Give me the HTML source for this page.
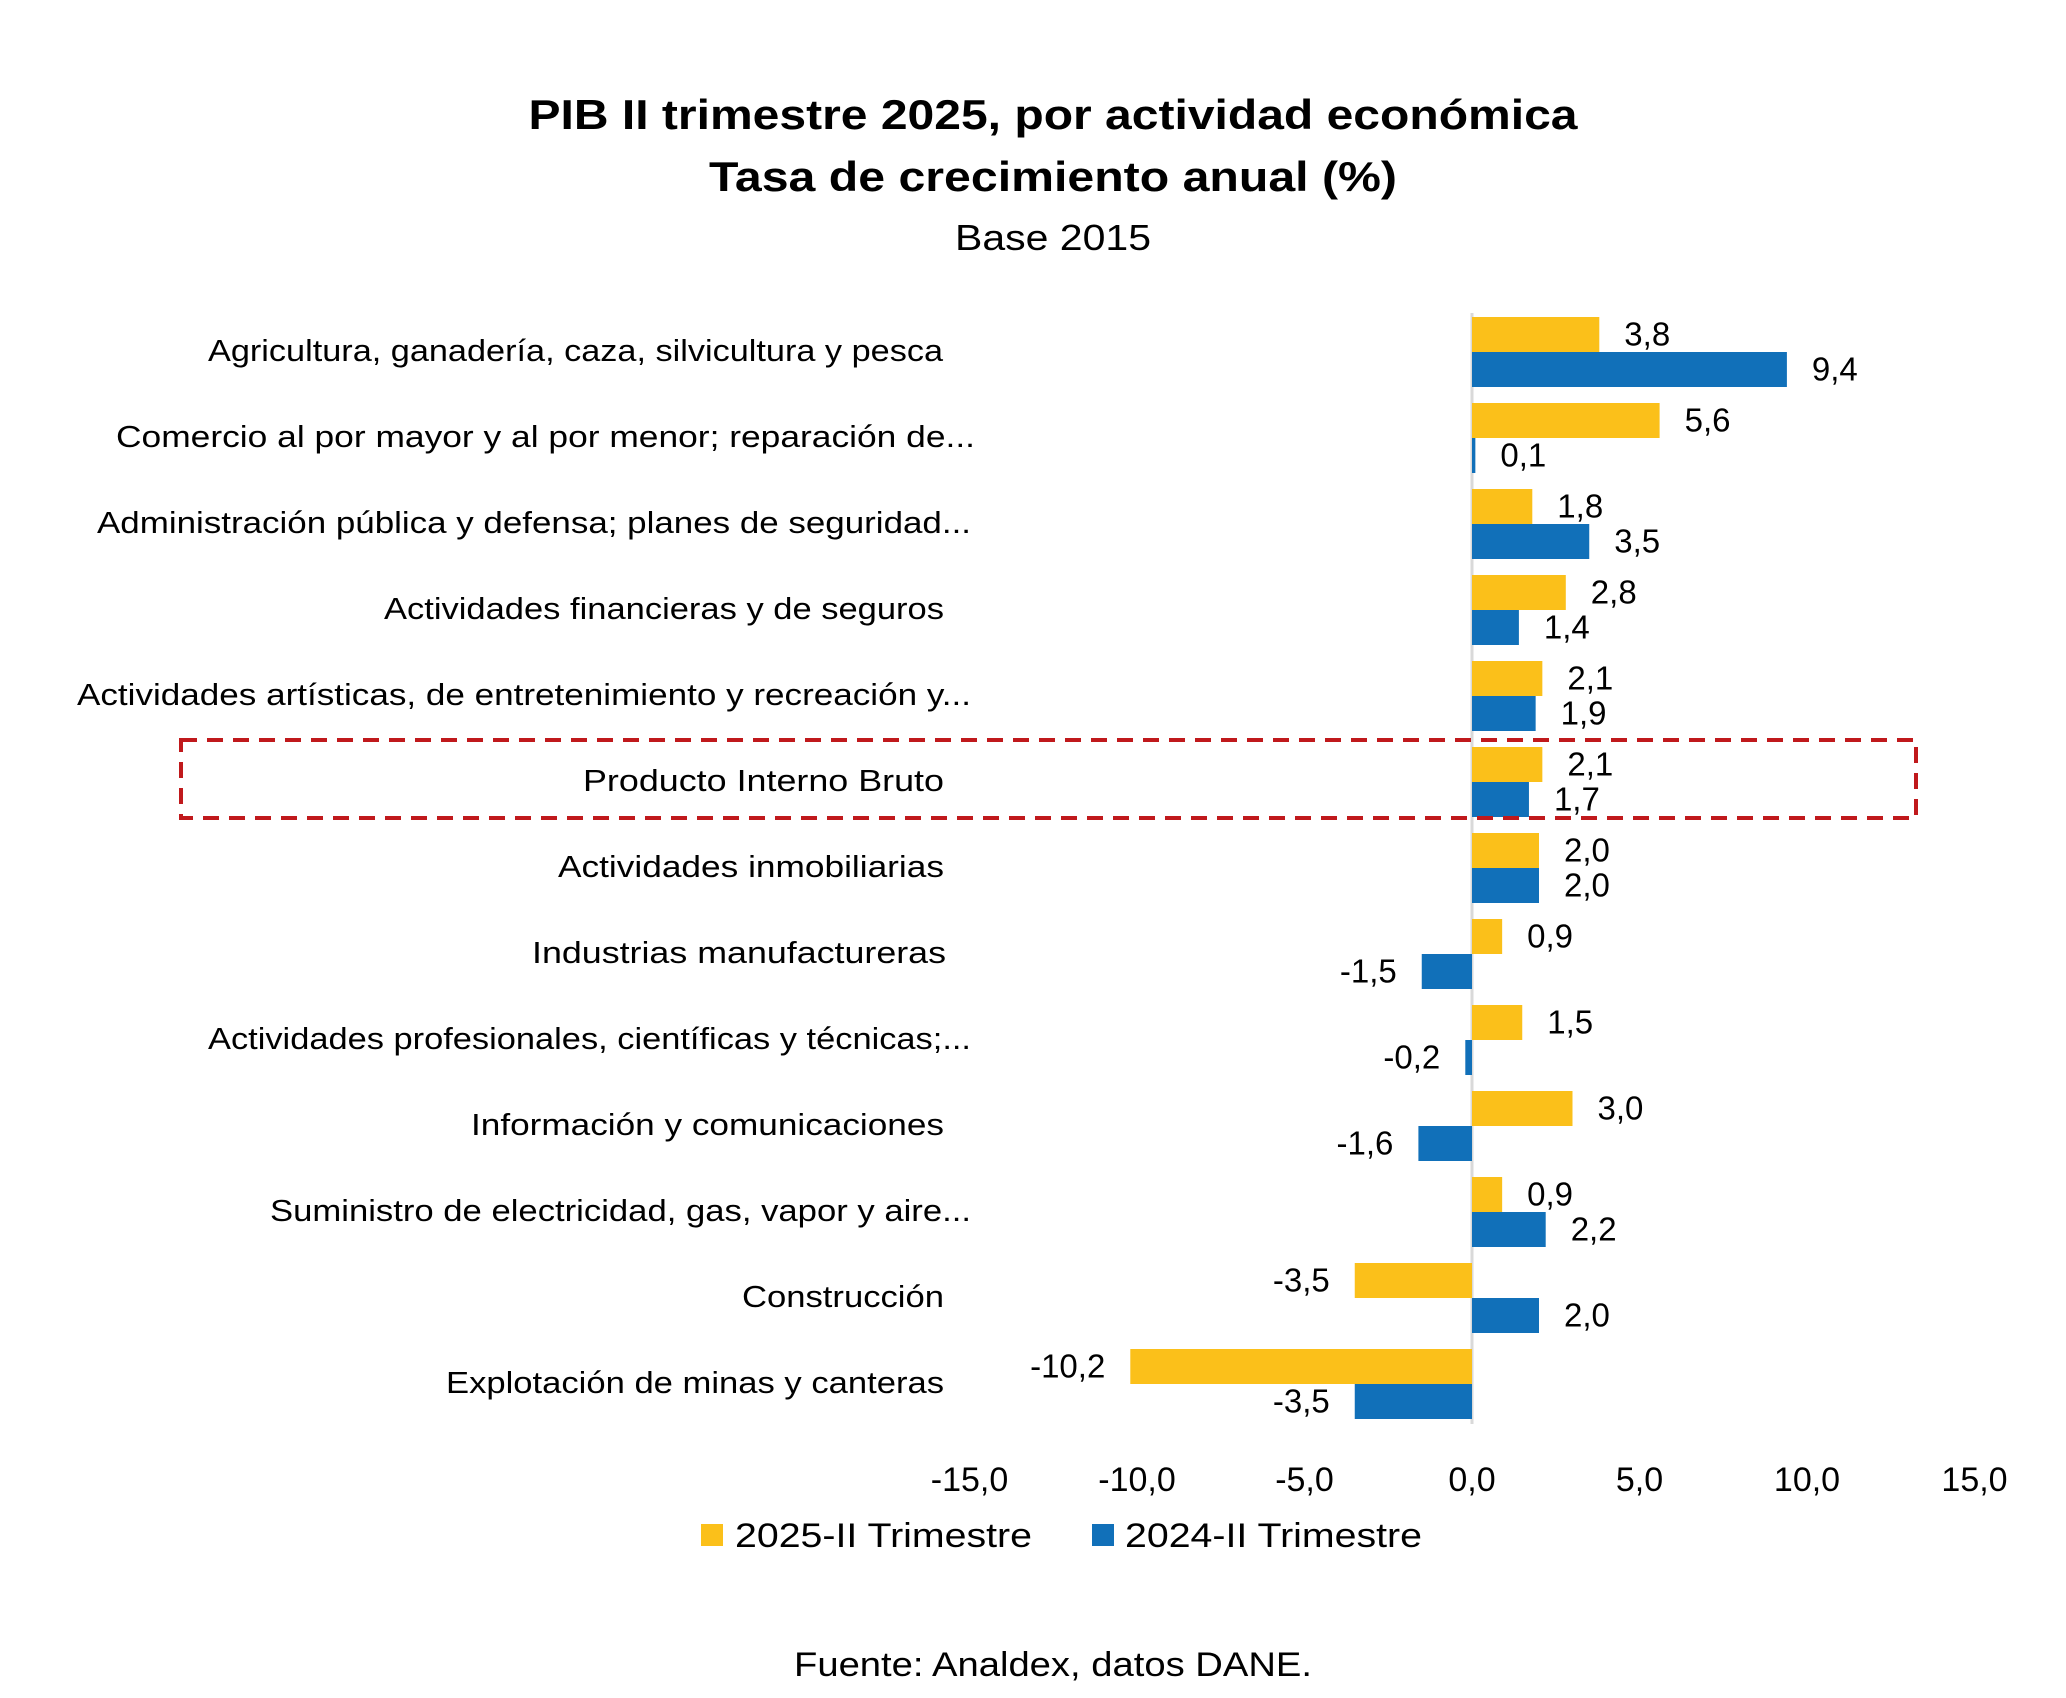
<!DOCTYPE html>
<html><head><meta charset="utf-8"><style>
html,body{margin:0;padding:0;background:#fff}
svg{display:block}
text{font-family:"Liberation Sans",sans-serif;fill:#000}
</style></head><body>
<svg id="chart" width="2066" height="1698" viewBox="0 0 2066 1698" xmlns="http://www.w3.org/2000/svg">
<text x="1053" y="129" text-anchor="middle" font-size="42" font-weight="bold" textLength="1049" lengthAdjust="spacingAndGlyphs">PIB II trimestre 2025, por actividad económica</text>
<text x="1053" y="191" text-anchor="middle" font-size="42" font-weight="bold" textLength="688" lengthAdjust="spacingAndGlyphs">Tasa de crecimiento anual (%)</text>
<text x="1053" y="250" text-anchor="middle" font-size="36" textLength="196" lengthAdjust="spacingAndGlyphs">Base 2015</text>
<g id="plot"></g>
<rect x="181" y="740" width="1735" height="78" fill="none" stroke="#c0191c" stroke-width="4" stroke-dasharray="16,10"/>
<g>
<rect x="701" y="1524" width="22" height="22" fill="#FBC01A"/>
<text x="735" y="1547" font-size="34" textLength="297" lengthAdjust="spacingAndGlyphs">2025-II Trimestre</text>
<rect x="1092" y="1524" width="22" height="22" fill="#1170B9"/>
<text x="1125" y="1547" font-size="34" textLength="297" lengthAdjust="spacingAndGlyphs">2024-II Trimestre</text>
</g>
<text x="1053" y="1676" text-anchor="middle" font-size="34" textLength="518" lengthAdjust="spacingAndGlyphs">Fuente: Analdex, datos DANE.</text>
</svg>
<script>
const categories = ["Agricultura, ganadería, caza, silvicultura y pesca","Comercio al por mayor y al por menor; reparación de...","Administración pública y defensa; planes de seguridad...","Actividades financieras y de seguros","Actividades artísticas, de entretenimiento y recreación y...","Producto Interno Bruto","Actividades inmobiliarias","Industrias manufactureras","Actividades profesionales, científicas y técnicas;...","Información y comunicaciones","Suministro de electricidad, gas, vapor y aire...","Construcción","Explotación de minas y canteras"];
const values2025 = [3.8,5.6,1.8,2.8,2.1,2.1,2.0,0.9,1.5,3.0,0.9,-3.5,-10.2];
const values2024 = [9.4,0.1,3.5,1.4,1.9,1.7,2.0,-1.5,-0.2,-1.6,2.2,2.0,-3.5];
const tickValues = [-15,-10,-5,0,5,10,15];
const labelRight = [943,975,971,944,971,944,944,946,971,944,971,944,944];
const labelLeft = [208,116,97,384,77,583,558,532,208,471,270,742,446];

const NS="http://www.w3.org/2000/svg";
const plot=document.getElementById('plot');
const x0=1472, pxPerUnit=33.5;
const xs=v=>x0+v*pxPerUnit;
const step=86.0, yTop=352-step/2, barH=35;
const yc=i=>yTop+step*i+step/2;
const fmt=v=>v.toFixed(1).replace('.',',');
function mk(tag,attrs){const e=document.createElementNS(NS,tag);for(const k in attrs)e.setAttribute(k,attrs[k]);plot.appendChild(e);return e;}

const axis=mk('line',{x1:x0,x2:x0,y1:313,y2:1424,stroke:'#d9d9d9','stroke-width':3});



tickValues.forEach(t=>{
  const e=mk('text',{x:xs(t),y:1491,'text-anchor':'middle','font-size':34});
  e.textContent=fmt(t);
  
  
});

categories.forEach((c,i)=>{
  const cy=yc(i);
  const lab=mk('text',{x:labelRight[i],y:cy+9,'text-anchor':'end','font-size':31,textLength:labelRight[i]-labelLeft[i],lengthAdjust:'spacingAndGlyphs'});
  lab.textContent=c;
  
  
  [[values2025[i],'#FBC01A',cy-barH,'2025'],[values2024[i],'#1170B9',cy,'2024']].forEach(([v,col,y,s])=>{
    const xa=Math.min(xs(0),xs(v)), w=Math.max(Math.abs(xs(v)-xs(0)),1.5);
    const r=mk('rect',{x:xa,y:y,width:w,height:barH,fill:col});
    
    
    const pos=v>=0;
    const t=mk('text',{x:pos?xs(v)+25:xs(v)-25,y:y+barH/2+11,'text-anchor':pos?'start':'end','font-size':33});
    t.textContent=fmt(v);
    
    
  });
});
</script>
</body></html>
